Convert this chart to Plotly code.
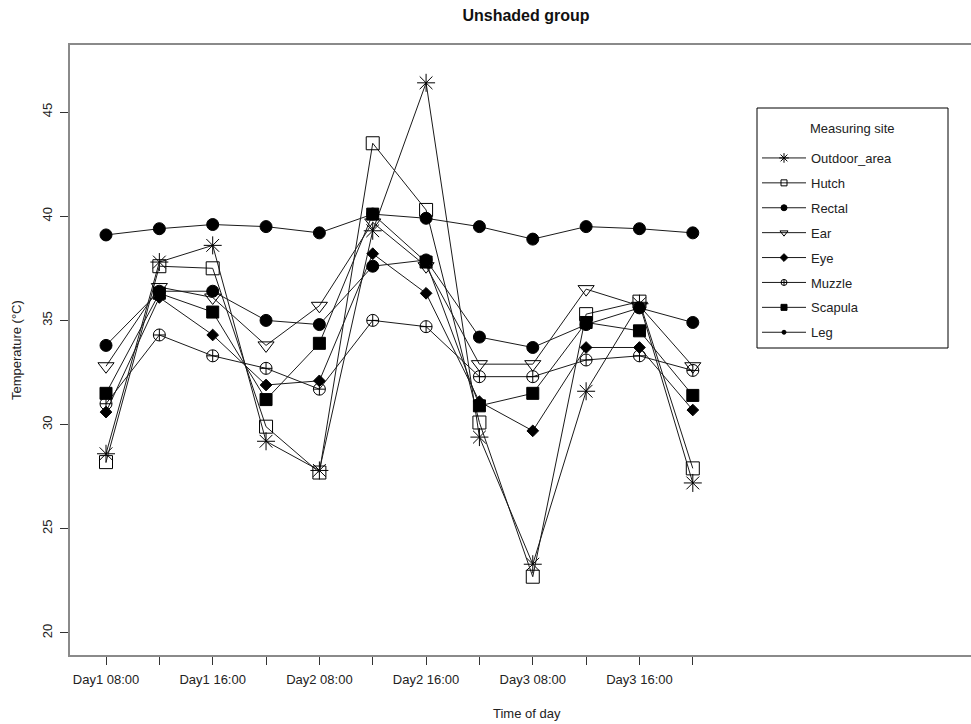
import plotly.graph_objects as go

# Sampling times (every other label is printed on the axis)
time_points = ["Day1 08:00", "Day1 12:00", "Day1 16:00", "Day1 20:00",
               "Day2 08:00", "Day2 12:00", "Day2 16:00", "Day2 20:00",
               "Day3 08:00", "Day3 12:00", "Day3 16:00", "Day3 20:00"]

# Temperatures (°C) per measuring site
outdoor_area = [28.6, 37.8, 38.6, 29.2, 27.8, 39.3, 46.4, 29.4, 23.3, 31.6, 35.8, 27.2]
hutch        = [28.2, 37.6, 37.5, 29.9, 27.7, 43.5, 40.3, 30.1, 22.7, 35.3, 35.9, 27.9]
rectal       = [39.1, 39.4, 39.6, 39.5, 39.2, 40.1, 39.9, 39.5, 38.9, 39.5, 39.4, 39.2]
ear          = [32.8, 36.6, 36.1, 33.8, 35.7, 39.7, 37.6, 32.9, 32.9, 36.5, 35.7, 32.8]
eye          = [30.6, 36.1, 34.3, 31.9, 32.1, 38.2, 36.3, 31.1, 29.7, 33.7, 33.7, 30.7]
muzzle       = [31.0, 34.3, 33.3, 32.7, 31.7, 35.0, 34.7, 32.3, 32.3, 33.1, 33.3, 32.6]
scapula      = [31.5, 36.3, 35.4, 31.2, 33.9, 40.1, 37.8, 30.9, 31.5, 34.9, 34.5, 31.4]
leg          = [33.8, 36.4, 36.4, 35.0, 34.8, 37.6, 37.9, 34.2, 33.7, 34.8, 35.6, 34.9]

y_ticks = [20, 25, 30, 35, 40, 45]

x_pos = list(range(1, len(time_points) + 1))
tick_text = [t if i % 2 == 0 else "" for i, t in enumerate(time_points)]

# name, values, symbol, size on plot, size in legend
sites = [
    ("Outdoor_area", outdoor_area, "asterisk-open", 15, 8),
    ("Hutch", hutch, "square-open", 13, 6),
    ("Rectal", rectal, "circle", 12, 6),
    ("Ear", ear, "triangle-down-open", 14, 7),
    ("Eye", eye, "diamond", 9, 6),
    ("Muzzle", muzzle, "circle-cross-open", 12, 6),
    ("Scapula", scapula, "square", 12, 6),
    ("Leg", leg, "circle", 12, 4),
]

LINE = "#1a1a1a"
FONT = "Liberation Sans, Arial, sans-serif"

fig = go.Figure()
for name, vals, sym, size, lsize in sites:
    fig.add_trace(go.Scatter(
        x=x_pos, y=vals, mode="lines+markers", name=name,
        legendgroup=name, showlegend=False,
        line=dict(color=LINE, width=1),
        marker=dict(symbol=sym, size=size, color="black",
                    line=dict(color="black", width=1)),
    ))
# compact legend entries
for name, vals, sym, size, lsize in sites:
    fig.add_trace(go.Scatter(
        x=[None], y=[None], mode="lines+markers", name=name,
        legendgroup=name, showlegend=True,
        line=dict(color=LINE, width=1),
        marker=dict(symbol=sym, size=lsize, color="black",
                    line=dict(color="black", width=1)),
    ))

fig.update_layout(
    width=971, height=724, autosize=False,
    margin=dict(l=70, r=0, t=45, b=69),
    paper_bgcolor="white", plot_bgcolor="white",
    font=dict(family=FONT, size=13, color="#222"),
    title=dict(text="<b>Unshaded group</b>", font=dict(size=16, color="#111"),
               x=526 / 971, xref="container", xanchor="center",
               y=1 - 15 / 724, yref="container", yanchor="middle"),
    showlegend=True,
    legend=dict(x=(757 - 70) / 901, xanchor="left",
                y=(655 - 143) / 610, yanchor="top",
                bgcolor="rgba(0,0,0,0)", borderwidth=0,
                font=dict(size=13, color="#222"),
                itemwidth=44, traceorder="grouped", tracegroupgap=5),
    xaxis=dict(range=[0.325, 17.215], tickmode="array", tickvals=x_pos,
               ticktext=tick_text, ticks="outside", ticklen=8,
               tickcolor="#333", tickwidth=1, ticklabelstandoff=4,
               showline=True, linecolor="#8a8a8a", linewidth=1.5, mirror=True,
               showgrid=False, zeroline=False, tickfont=dict(size=13)),
    yaxis=dict(range=[18.944, 48.215], tickmode="array", tickvals=y_ticks,
               ticks="outside", ticklen=8, tickcolor="#333", tickwidth=1,
               tickangle=-90, ticklabelstandoff=3,
               showline=True, linecolor="#8a8a8a", linewidth=1.5, mirror=False,
               showgrid=False, zeroline=False, tickfont=dict(size=13)),
    shapes=[dict(type="rect", xref="paper", yref="paper",
                 x0=(757 - 70) / 901, x1=(948 - 70) / 901,
                 y0=(655 - 348) / 610, y1=(655 - 108) / 610,
                 line=dict(color="black", width=1), fillcolor="rgba(0,0,0,0)")],
    annotations=[
        dict(text="Measuring site", xref="paper", yref="paper",
             x=(852 - 70) / 901, y=(655 - 129) / 610, showarrow=False,
             xanchor="center", yanchor="middle", font=dict(size=13, color="#222")),
        dict(text="Time of day", xref="paper", yref="paper",
             x=(527 - 70) / 901, y=(655 - 713) / 610, showarrow=False,
             xanchor="center", yanchor="middle", font=dict(size=13, color="#222")),
        dict(text="Temperature (°C)", xref="paper", yref="paper",
             x=(16 - 70) / 901, y=0.5, showarrow=False, textangle=-90,
             xanchor="center", yanchor="middle", font=dict(size=13, color="#222")),
    ],
)

fig.write_html("out.html")
